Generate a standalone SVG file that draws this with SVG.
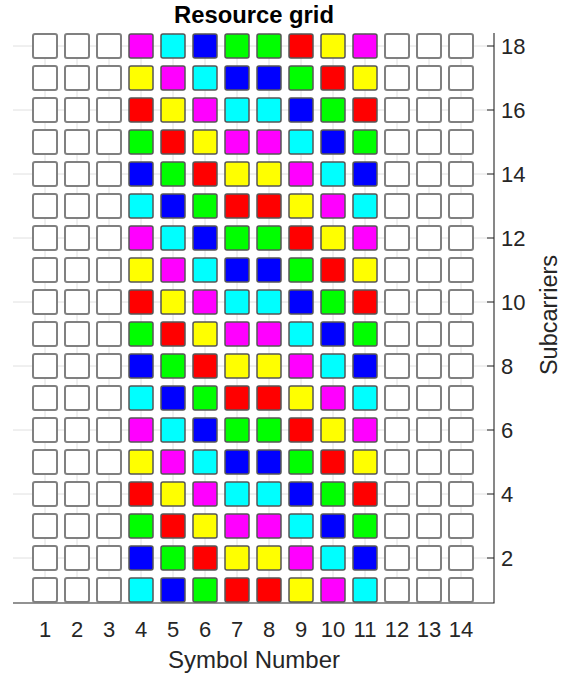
<svg xmlns="http://www.w3.org/2000/svg" width="563" height="675" viewBox="0 0 563 675">
<style>
.grid line{stroke:#e0e0e0;stroke-width:1}
.ax{stroke:#262626;stroke-width:1.1;fill:none}
rect{stroke-width:2}
.w{fill:#ffffff;stroke:#808080}
.k0{fill:#00ffff;stroke:#555}
.k1{fill:#0000ff;stroke:#555}
.k2{fill:#00ff00;stroke:#555}
.k3{fill:#ff0000;stroke:#555}
.k4{fill:#ffff00;stroke:#555}
.k5{fill:#ff00ff;stroke:#555}
.k0,.k1,.k2,.k3,.k4,.k5{stroke-width:1.5}
.t{font-family:"Liberation Sans",Arial,sans-serif;fill:#262626}
.tk{font-size:22px}
.xt{text-anchor:middle}
</style>
<rect x="0" y="0" width="563" height="675" fill="#ffffff" stroke="none"/>
<g class="grid" id="grid">
<line x1="45" y1="33" x2="45" y2="603"/><line x1="77" y1="33" x2="77" y2="603"/><line x1="109" y1="33" x2="109" y2="603"/><line x1="141" y1="33" x2="141" y2="603"/><line x1="173" y1="33" x2="173" y2="603"/><line x1="205" y1="33" x2="205" y2="603"/><line x1="237" y1="33" x2="237" y2="603"/><line x1="269" y1="33" x2="269" y2="603"/><line x1="301" y1="33" x2="301" y2="603"/><line x1="333" y1="33" x2="333" y2="603"/><line x1="365" y1="33" x2="365" y2="603"/><line x1="397" y1="33" x2="397" y2="603"/><line x1="429" y1="33" x2="429" y2="603"/><line x1="461" y1="33" x2="461" y2="603"/>
<line x1="13" y1="46" x2="494" y2="46"/><line x1="13" y1="110" x2="494" y2="110"/><line x1="13" y1="174" x2="494" y2="174"/><line x1="13" y1="238" x2="494" y2="238"/><line x1="13" y1="302" x2="494" y2="302"/><line x1="13" y1="366" x2="494" y2="366"/><line x1="13" y1="430" x2="494" y2="430"/><line x1="13" y1="494" x2="494" y2="494"/><line x1="13" y1="558" x2="494" y2="558"/>
</g>
<g id="axes">
<path class="ax" d="M13 603H494V33"/>
<path class="ax" d="M487 46H494M487 110H494M487 174H494M487 238H494M487 302H494M487 366H494M487 430H494M487 494H494M487 558H494"/>
</g>
<g id="cells">
<g id="r18c1"><rect class="w" x="33" y="34" width="24" height="24" rx="2"/></g><g id="r18c2"><rect class="w" x="65" y="34" width="24" height="24" rx="2"/></g><g id="r18c3"><rect class="w" x="97" y="34" width="24" height="24" rx="2"/></g><g id="r18c4"><rect class="k5" x="129" y="34" width="24" height="24" rx="2"/></g><g id="r18c5"><rect class="k0" x="161" y="34" width="24" height="24" rx="2"/></g><g id="r18c6"><rect class="k1" x="193" y="34" width="24" height="24" rx="2"/></g><g id="r18c7"><rect class="k2" x="225" y="34" width="24" height="24" rx="2"/></g><g id="r18c8"><rect class="k2" x="257" y="34" width="24" height="24" rx="2"/></g><g id="r18c9"><rect class="k3" x="289" y="34" width="24" height="24" rx="2"/></g><g id="r18c10"><rect class="k4" x="321" y="34" width="24" height="24" rx="2"/></g><g id="r18c11"><rect class="k5" x="353" y="34" width="24" height="24" rx="2"/></g><g id="r18c12"><rect class="w" x="385" y="34" width="24" height="24" rx="2"/></g><g id="r18c13"><rect class="w" x="417" y="34" width="24" height="24" rx="2"/></g><g id="r18c14"><rect class="w" x="449" y="34" width="24" height="24" rx="2"/></g>
<g id="r17c1"><rect class="w" x="33" y="66" width="24" height="24" rx="2"/></g><g id="r17c2"><rect class="w" x="65" y="66" width="24" height="24" rx="2"/></g><g id="r17c3"><rect class="w" x="97" y="66" width="24" height="24" rx="2"/></g><g id="r17c4"><rect class="k4" x="129" y="66" width="24" height="24" rx="2"/></g><g id="r17c5"><rect class="k5" x="161" y="66" width="24" height="24" rx="2"/></g><g id="r17c6"><rect class="k0" x="193" y="66" width="24" height="24" rx="2"/></g><g id="r17c7"><rect class="k1" x="225" y="66" width="24" height="24" rx="2"/></g><g id="r17c8"><rect class="k1" x="257" y="66" width="24" height="24" rx="2"/></g><g id="r17c9"><rect class="k2" x="289" y="66" width="24" height="24" rx="2"/></g><g id="r17c10"><rect class="k3" x="321" y="66" width="24" height="24" rx="2"/></g><g id="r17c11"><rect class="k4" x="353" y="66" width="24" height="24" rx="2"/></g><g id="r17c12"><rect class="w" x="385" y="66" width="24" height="24" rx="2"/></g><g id="r17c13"><rect class="w" x="417" y="66" width="24" height="24" rx="2"/></g><g id="r17c14"><rect class="w" x="449" y="66" width="24" height="24" rx="2"/></g>
<g id="r16c1"><rect class="w" x="33" y="98" width="24" height="24" rx="2"/></g><g id="r16c2"><rect class="w" x="65" y="98" width="24" height="24" rx="2"/></g><g id="r16c3"><rect class="w" x="97" y="98" width="24" height="24" rx="2"/></g><g id="r16c4"><rect class="k3" x="129" y="98" width="24" height="24" rx="2"/></g><g id="r16c5"><rect class="k4" x="161" y="98" width="24" height="24" rx="2"/></g><g id="r16c6"><rect class="k5" x="193" y="98" width="24" height="24" rx="2"/></g><g id="r16c7"><rect class="k0" x="225" y="98" width="24" height="24" rx="2"/></g><g id="r16c8"><rect class="k0" x="257" y="98" width="24" height="24" rx="2"/></g><g id="r16c9"><rect class="k1" x="289" y="98" width="24" height="24" rx="2"/></g><g id="r16c10"><rect class="k2" x="321" y="98" width="24" height="24" rx="2"/></g><g id="r16c11"><rect class="k3" x="353" y="98" width="24" height="24" rx="2"/></g><g id="r16c12"><rect class="w" x="385" y="98" width="24" height="24" rx="2"/></g><g id="r16c13"><rect class="w" x="417" y="98" width="24" height="24" rx="2"/></g><g id="r16c14"><rect class="w" x="449" y="98" width="24" height="24" rx="2"/></g>
<g id="r15c1"><rect class="w" x="33" y="130" width="24" height="24" rx="2"/></g><g id="r15c2"><rect class="w" x="65" y="130" width="24" height="24" rx="2"/></g><g id="r15c3"><rect class="w" x="97" y="130" width="24" height="24" rx="2"/></g><g id="r15c4"><rect class="k2" x="129" y="130" width="24" height="24" rx="2"/></g><g id="r15c5"><rect class="k3" x="161" y="130" width="24" height="24" rx="2"/></g><g id="r15c6"><rect class="k4" x="193" y="130" width="24" height="24" rx="2"/></g><g id="r15c7"><rect class="k5" x="225" y="130" width="24" height="24" rx="2"/></g><g id="r15c8"><rect class="k5" x="257" y="130" width="24" height="24" rx="2"/></g><g id="r15c9"><rect class="k0" x="289" y="130" width="24" height="24" rx="2"/></g><g id="r15c10"><rect class="k1" x="321" y="130" width="24" height="24" rx="2"/></g><g id="r15c11"><rect class="k2" x="353" y="130" width="24" height="24" rx="2"/></g><g id="r15c12"><rect class="w" x="385" y="130" width="24" height="24" rx="2"/></g><g id="r15c13"><rect class="w" x="417" y="130" width="24" height="24" rx="2"/></g><g id="r15c14"><rect class="w" x="449" y="130" width="24" height="24" rx="2"/></g>
<g id="r14c1"><rect class="w" x="33" y="162" width="24" height="24" rx="2"/></g><g id="r14c2"><rect class="w" x="65" y="162" width="24" height="24" rx="2"/></g><g id="r14c3"><rect class="w" x="97" y="162" width="24" height="24" rx="2"/></g><g id="r14c4"><rect class="k1" x="129" y="162" width="24" height="24" rx="2"/></g><g id="r14c5"><rect class="k2" x="161" y="162" width="24" height="24" rx="2"/></g><g id="r14c6"><rect class="k3" x="193" y="162" width="24" height="24" rx="2"/></g><g id="r14c7"><rect class="k4" x="225" y="162" width="24" height="24" rx="2"/></g><g id="r14c8"><rect class="k4" x="257" y="162" width="24" height="24" rx="2"/></g><g id="r14c9"><rect class="k5" x="289" y="162" width="24" height="24" rx="2"/></g><g id="r14c10"><rect class="k0" x="321" y="162" width="24" height="24" rx="2"/></g><g id="r14c11"><rect class="k1" x="353" y="162" width="24" height="24" rx="2"/></g><g id="r14c12"><rect class="w" x="385" y="162" width="24" height="24" rx="2"/></g><g id="r14c13"><rect class="w" x="417" y="162" width="24" height="24" rx="2"/></g><g id="r14c14"><rect class="w" x="449" y="162" width="24" height="24" rx="2"/></g>
<g id="r13c1"><rect class="w" x="33" y="194" width="24" height="24" rx="2"/></g><g id="r13c2"><rect class="w" x="65" y="194" width="24" height="24" rx="2"/></g><g id="r13c3"><rect class="w" x="97" y="194" width="24" height="24" rx="2"/></g><g id="r13c4"><rect class="k0" x="129" y="194" width="24" height="24" rx="2"/></g><g id="r13c5"><rect class="k1" x="161" y="194" width="24" height="24" rx="2"/></g><g id="r13c6"><rect class="k2" x="193" y="194" width="24" height="24" rx="2"/></g><g id="r13c7"><rect class="k3" x="225" y="194" width="24" height="24" rx="2"/></g><g id="r13c8"><rect class="k3" x="257" y="194" width="24" height="24" rx="2"/></g><g id="r13c9"><rect class="k4" x="289" y="194" width="24" height="24" rx="2"/></g><g id="r13c10"><rect class="k5" x="321" y="194" width="24" height="24" rx="2"/></g><g id="r13c11"><rect class="k0" x="353" y="194" width="24" height="24" rx="2"/></g><g id="r13c12"><rect class="w" x="385" y="194" width="24" height="24" rx="2"/></g><g id="r13c13"><rect class="w" x="417" y="194" width="24" height="24" rx="2"/></g><g id="r13c14"><rect class="w" x="449" y="194" width="24" height="24" rx="2"/></g>
<g id="r12c1"><rect class="w" x="33" y="226" width="24" height="24" rx="2"/></g><g id="r12c2"><rect class="w" x="65" y="226" width="24" height="24" rx="2"/></g><g id="r12c3"><rect class="w" x="97" y="226" width="24" height="24" rx="2"/></g><g id="r12c4"><rect class="k5" x="129" y="226" width="24" height="24" rx="2"/></g><g id="r12c5"><rect class="k0" x="161" y="226" width="24" height="24" rx="2"/></g><g id="r12c6"><rect class="k1" x="193" y="226" width="24" height="24" rx="2"/></g><g id="r12c7"><rect class="k2" x="225" y="226" width="24" height="24" rx="2"/></g><g id="r12c8"><rect class="k2" x="257" y="226" width="24" height="24" rx="2"/></g><g id="r12c9"><rect class="k3" x="289" y="226" width="24" height="24" rx="2"/></g><g id="r12c10"><rect class="k4" x="321" y="226" width="24" height="24" rx="2"/></g><g id="r12c11"><rect class="k5" x="353" y="226" width="24" height="24" rx="2"/></g><g id="r12c12"><rect class="w" x="385" y="226" width="24" height="24" rx="2"/></g><g id="r12c13"><rect class="w" x="417" y="226" width="24" height="24" rx="2"/></g><g id="r12c14"><rect class="w" x="449" y="226" width="24" height="24" rx="2"/></g>
<g id="r11c1"><rect class="w" x="33" y="258" width="24" height="24" rx="2"/></g><g id="r11c2"><rect class="w" x="65" y="258" width="24" height="24" rx="2"/></g><g id="r11c3"><rect class="w" x="97" y="258" width="24" height="24" rx="2"/></g><g id="r11c4"><rect class="k4" x="129" y="258" width="24" height="24" rx="2"/></g><g id="r11c5"><rect class="k5" x="161" y="258" width="24" height="24" rx="2"/></g><g id="r11c6"><rect class="k0" x="193" y="258" width="24" height="24" rx="2"/></g><g id="r11c7"><rect class="k1" x="225" y="258" width="24" height="24" rx="2"/></g><g id="r11c8"><rect class="k1" x="257" y="258" width="24" height="24" rx="2"/></g><g id="r11c9"><rect class="k2" x="289" y="258" width="24" height="24" rx="2"/></g><g id="r11c10"><rect class="k3" x="321" y="258" width="24" height="24" rx="2"/></g><g id="r11c11"><rect class="k4" x="353" y="258" width="24" height="24" rx="2"/></g><g id="r11c12"><rect class="w" x="385" y="258" width="24" height="24" rx="2"/></g><g id="r11c13"><rect class="w" x="417" y="258" width="24" height="24" rx="2"/></g><g id="r11c14"><rect class="w" x="449" y="258" width="24" height="24" rx="2"/></g>
<g id="r10c1"><rect class="w" x="33" y="290" width="24" height="24" rx="2"/></g><g id="r10c2"><rect class="w" x="65" y="290" width="24" height="24" rx="2"/></g><g id="r10c3"><rect class="w" x="97" y="290" width="24" height="24" rx="2"/></g><g id="r10c4"><rect class="k3" x="129" y="290" width="24" height="24" rx="2"/></g><g id="r10c5"><rect class="k4" x="161" y="290" width="24" height="24" rx="2"/></g><g id="r10c6"><rect class="k5" x="193" y="290" width="24" height="24" rx="2"/></g><g id="r10c7"><rect class="k0" x="225" y="290" width="24" height="24" rx="2"/></g><g id="r10c8"><rect class="k0" x="257" y="290" width="24" height="24" rx="2"/></g><g id="r10c9"><rect class="k1" x="289" y="290" width="24" height="24" rx="2"/></g><g id="r10c10"><rect class="k2" x="321" y="290" width="24" height="24" rx="2"/></g><g id="r10c11"><rect class="k3" x="353" y="290" width="24" height="24" rx="2"/></g><g id="r10c12"><rect class="w" x="385" y="290" width="24" height="24" rx="2"/></g><g id="r10c13"><rect class="w" x="417" y="290" width="24" height="24" rx="2"/></g><g id="r10c14"><rect class="w" x="449" y="290" width="24" height="24" rx="2"/></g>
<g id="r9c1"><rect class="w" x="33" y="322" width="24" height="24" rx="2"/></g><g id="r9c2"><rect class="w" x="65" y="322" width="24" height="24" rx="2"/></g><g id="r9c3"><rect class="w" x="97" y="322" width="24" height="24" rx="2"/></g><g id="r9c4"><rect class="k2" x="129" y="322" width="24" height="24" rx="2"/></g><g id="r9c5"><rect class="k3" x="161" y="322" width="24" height="24" rx="2"/></g><g id="r9c6"><rect class="k4" x="193" y="322" width="24" height="24" rx="2"/></g><g id="r9c7"><rect class="k5" x="225" y="322" width="24" height="24" rx="2"/></g><g id="r9c8"><rect class="k5" x="257" y="322" width="24" height="24" rx="2"/></g><g id="r9c9"><rect class="k0" x="289" y="322" width="24" height="24" rx="2"/></g><g id="r9c10"><rect class="k1" x="321" y="322" width="24" height="24" rx="2"/></g><g id="r9c11"><rect class="k2" x="353" y="322" width="24" height="24" rx="2"/></g><g id="r9c12"><rect class="w" x="385" y="322" width="24" height="24" rx="2"/></g><g id="r9c13"><rect class="w" x="417" y="322" width="24" height="24" rx="2"/></g><g id="r9c14"><rect class="w" x="449" y="322" width="24" height="24" rx="2"/></g>
<g id="r8c1"><rect class="w" x="33" y="354" width="24" height="24" rx="2"/></g><g id="r8c2"><rect class="w" x="65" y="354" width="24" height="24" rx="2"/></g><g id="r8c3"><rect class="w" x="97" y="354" width="24" height="24" rx="2"/></g><g id="r8c4"><rect class="k1" x="129" y="354" width="24" height="24" rx="2"/></g><g id="r8c5"><rect class="k2" x="161" y="354" width="24" height="24" rx="2"/></g><g id="r8c6"><rect class="k3" x="193" y="354" width="24" height="24" rx="2"/></g><g id="r8c7"><rect class="k4" x="225" y="354" width="24" height="24" rx="2"/></g><g id="r8c8"><rect class="k4" x="257" y="354" width="24" height="24" rx="2"/></g><g id="r8c9"><rect class="k5" x="289" y="354" width="24" height="24" rx="2"/></g><g id="r8c10"><rect class="k0" x="321" y="354" width="24" height="24" rx="2"/></g><g id="r8c11"><rect class="k1" x="353" y="354" width="24" height="24" rx="2"/></g><g id="r8c12"><rect class="w" x="385" y="354" width="24" height="24" rx="2"/></g><g id="r8c13"><rect class="w" x="417" y="354" width="24" height="24" rx="2"/></g><g id="r8c14"><rect class="w" x="449" y="354" width="24" height="24" rx="2"/></g>
<g id="r7c1"><rect class="w" x="33" y="386" width="24" height="24" rx="2"/></g><g id="r7c2"><rect class="w" x="65" y="386" width="24" height="24" rx="2"/></g><g id="r7c3"><rect class="w" x="97" y="386" width="24" height="24" rx="2"/></g><g id="r7c4"><rect class="k0" x="129" y="386" width="24" height="24" rx="2"/></g><g id="r7c5"><rect class="k1" x="161" y="386" width="24" height="24" rx="2"/></g><g id="r7c6"><rect class="k2" x="193" y="386" width="24" height="24" rx="2"/></g><g id="r7c7"><rect class="k3" x="225" y="386" width="24" height="24" rx="2"/></g><g id="r7c8"><rect class="k3" x="257" y="386" width="24" height="24" rx="2"/></g><g id="r7c9"><rect class="k4" x="289" y="386" width="24" height="24" rx="2"/></g><g id="r7c10"><rect class="k5" x="321" y="386" width="24" height="24" rx="2"/></g><g id="r7c11"><rect class="k0" x="353" y="386" width="24" height="24" rx="2"/></g><g id="r7c12"><rect class="w" x="385" y="386" width="24" height="24" rx="2"/></g><g id="r7c13"><rect class="w" x="417" y="386" width="24" height="24" rx="2"/></g><g id="r7c14"><rect class="w" x="449" y="386" width="24" height="24" rx="2"/></g>
<g id="r6c1"><rect class="w" x="33" y="418" width="24" height="24" rx="2"/></g><g id="r6c2"><rect class="w" x="65" y="418" width="24" height="24" rx="2"/></g><g id="r6c3"><rect class="w" x="97" y="418" width="24" height="24" rx="2"/></g><g id="r6c4"><rect class="k5" x="129" y="418" width="24" height="24" rx="2"/></g><g id="r6c5"><rect class="k0" x="161" y="418" width="24" height="24" rx="2"/></g><g id="r6c6"><rect class="k1" x="193" y="418" width="24" height="24" rx="2"/></g><g id="r6c7"><rect class="k2" x="225" y="418" width="24" height="24" rx="2"/></g><g id="r6c8"><rect class="k2" x="257" y="418" width="24" height="24" rx="2"/></g><g id="r6c9"><rect class="k3" x="289" y="418" width="24" height="24" rx="2"/></g><g id="r6c10"><rect class="k4" x="321" y="418" width="24" height="24" rx="2"/></g><g id="r6c11"><rect class="k5" x="353" y="418" width="24" height="24" rx="2"/></g><g id="r6c12"><rect class="w" x="385" y="418" width="24" height="24" rx="2"/></g><g id="r6c13"><rect class="w" x="417" y="418" width="24" height="24" rx="2"/></g><g id="r6c14"><rect class="w" x="449" y="418" width="24" height="24" rx="2"/></g>
<g id="r5c1"><rect class="w" x="33" y="450" width="24" height="24" rx="2"/></g><g id="r5c2"><rect class="w" x="65" y="450" width="24" height="24" rx="2"/></g><g id="r5c3"><rect class="w" x="97" y="450" width="24" height="24" rx="2"/></g><g id="r5c4"><rect class="k4" x="129" y="450" width="24" height="24" rx="2"/></g><g id="r5c5"><rect class="k5" x="161" y="450" width="24" height="24" rx="2"/></g><g id="r5c6"><rect class="k0" x="193" y="450" width="24" height="24" rx="2"/></g><g id="r5c7"><rect class="k1" x="225" y="450" width="24" height="24" rx="2"/></g><g id="r5c8"><rect class="k1" x="257" y="450" width="24" height="24" rx="2"/></g><g id="r5c9"><rect class="k2" x="289" y="450" width="24" height="24" rx="2"/></g><g id="r5c10"><rect class="k3" x="321" y="450" width="24" height="24" rx="2"/></g><g id="r5c11"><rect class="k4" x="353" y="450" width="24" height="24" rx="2"/></g><g id="r5c12"><rect class="w" x="385" y="450" width="24" height="24" rx="2"/></g><g id="r5c13"><rect class="w" x="417" y="450" width="24" height="24" rx="2"/></g><g id="r5c14"><rect class="w" x="449" y="450" width="24" height="24" rx="2"/></g>
<g id="r4c1"><rect class="w" x="33" y="482" width="24" height="24" rx="2"/></g><g id="r4c2"><rect class="w" x="65" y="482" width="24" height="24" rx="2"/></g><g id="r4c3"><rect class="w" x="97" y="482" width="24" height="24" rx="2"/></g><g id="r4c4"><rect class="k3" x="129" y="482" width="24" height="24" rx="2"/></g><g id="r4c5"><rect class="k4" x="161" y="482" width="24" height="24" rx="2"/></g><g id="r4c6"><rect class="k5" x="193" y="482" width="24" height="24" rx="2"/></g><g id="r4c7"><rect class="k0" x="225" y="482" width="24" height="24" rx="2"/></g><g id="r4c8"><rect class="k0" x="257" y="482" width="24" height="24" rx="2"/></g><g id="r4c9"><rect class="k1" x="289" y="482" width="24" height="24" rx="2"/></g><g id="r4c10"><rect class="k2" x="321" y="482" width="24" height="24" rx="2"/></g><g id="r4c11"><rect class="k3" x="353" y="482" width="24" height="24" rx="2"/></g><g id="r4c12"><rect class="w" x="385" y="482" width="24" height="24" rx="2"/></g><g id="r4c13"><rect class="w" x="417" y="482" width="24" height="24" rx="2"/></g><g id="r4c14"><rect class="w" x="449" y="482" width="24" height="24" rx="2"/></g>
<g id="r3c1"><rect class="w" x="33" y="514" width="24" height="24" rx="2"/></g><g id="r3c2"><rect class="w" x="65" y="514" width="24" height="24" rx="2"/></g><g id="r3c3"><rect class="w" x="97" y="514" width="24" height="24" rx="2"/></g><g id="r3c4"><rect class="k2" x="129" y="514" width="24" height="24" rx="2"/></g><g id="r3c5"><rect class="k3" x="161" y="514" width="24" height="24" rx="2"/></g><g id="r3c6"><rect class="k4" x="193" y="514" width="24" height="24" rx="2"/></g><g id="r3c7"><rect class="k5" x="225" y="514" width="24" height="24" rx="2"/></g><g id="r3c8"><rect class="k5" x="257" y="514" width="24" height="24" rx="2"/></g><g id="r3c9"><rect class="k0" x="289" y="514" width="24" height="24" rx="2"/></g><g id="r3c10"><rect class="k1" x="321" y="514" width="24" height="24" rx="2"/></g><g id="r3c11"><rect class="k2" x="353" y="514" width="24" height="24" rx="2"/></g><g id="r3c12"><rect class="w" x="385" y="514" width="24" height="24" rx="2"/></g><g id="r3c13"><rect class="w" x="417" y="514" width="24" height="24" rx="2"/></g><g id="r3c14"><rect class="w" x="449" y="514" width="24" height="24" rx="2"/></g>
<g id="r2c1"><rect class="w" x="33" y="546" width="24" height="24" rx="2"/></g><g id="r2c2"><rect class="w" x="65" y="546" width="24" height="24" rx="2"/></g><g id="r2c3"><rect class="w" x="97" y="546" width="24" height="24" rx="2"/></g><g id="r2c4"><rect class="k1" x="129" y="546" width="24" height="24" rx="2"/></g><g id="r2c5"><rect class="k2" x="161" y="546" width="24" height="24" rx="2"/></g><g id="r2c6"><rect class="k3" x="193" y="546" width="24" height="24" rx="2"/></g><g id="r2c7"><rect class="k4" x="225" y="546" width="24" height="24" rx="2"/></g><g id="r2c8"><rect class="k4" x="257" y="546" width="24" height="24" rx="2"/></g><g id="r2c9"><rect class="k5" x="289" y="546" width="24" height="24" rx="2"/></g><g id="r2c10"><rect class="k0" x="321" y="546" width="24" height="24" rx="2"/></g><g id="r2c11"><rect class="k1" x="353" y="546" width="24" height="24" rx="2"/></g><g id="r2c12"><rect class="w" x="385" y="546" width="24" height="24" rx="2"/></g><g id="r2c13"><rect class="w" x="417" y="546" width="24" height="24" rx="2"/></g><g id="r2c14"><rect class="w" x="449" y="546" width="24" height="24" rx="2"/></g>
<g id="r1c1"><rect class="w" x="33" y="578" width="24" height="24" rx="2"/></g><g id="r1c2"><rect class="w" x="65" y="578" width="24" height="24" rx="2"/></g><g id="r1c3"><rect class="w" x="97" y="578" width="24" height="24" rx="2"/></g><g id="r1c4"><rect class="k0" x="129" y="578" width="24" height="24" rx="2"/></g><g id="r1c5"><rect class="k1" x="161" y="578" width="24" height="24" rx="2"/></g><g id="r1c6"><rect class="k2" x="193" y="578" width="24" height="24" rx="2"/></g><g id="r1c7"><rect class="k3" x="225" y="578" width="24" height="24" rx="2"/></g><g id="r1c8"><rect class="k3" x="257" y="578" width="24" height="24" rx="2"/></g><g id="r1c9"><rect class="k4" x="289" y="578" width="24" height="24" rx="2"/></g><g id="r1c10"><rect class="k5" x="321" y="578" width="24" height="24" rx="2"/></g><g id="r1c11"><rect class="k0" x="353" y="578" width="24" height="24" rx="2"/></g><g id="r1c12"><rect class="w" x="385" y="578" width="24" height="24" rx="2"/></g><g id="r1c13"><rect class="w" x="417" y="578" width="24" height="24" rx="2"/></g><g id="r1c14"><rect class="w" x="449" y="578" width="24" height="24" rx="2"/></g>
</g>
<g id="labels" class="t">
<text x="254" y="23" font-size="23" font-weight="bold" text-anchor="middle" fill="#000" textLength="160" lengthAdjust="spacingAndGlyphs">Resource grid</text>
<g class="tk">
<text x="501" y="54">18</text><text x="501" y="118">16</text><text x="501" y="182">14</text><text x="501" y="246">12</text><text x="501" y="310">10</text><text x="501" y="374">8</text><text x="501" y="438">6</text><text x="501" y="502">4</text><text x="501" y="566">2</text>
</g>
<g class="tk xt">
<text x="45" y="637">1</text><text x="77" y="637">2</text><text x="109" y="637">3</text><text x="141" y="637">4</text><text x="173" y="637">5</text><text x="205" y="637">6</text><text x="237" y="637">7</text><text x="269" y="637">8</text><text x="301" y="637">9</text><text x="333" y="637">10</text><text x="365" y="637">11</text><text x="397" y="637">12</text><text x="429" y="637">13</text><text x="461" y="637">14</text>
</g>
<text x="254" y="668" font-size="24" text-anchor="middle">Symbol Number</text>
<text transform="translate(557,315) rotate(-90)" font-size="23.5" text-anchor="middle">Subcarriers</text>
</g>
</svg>
